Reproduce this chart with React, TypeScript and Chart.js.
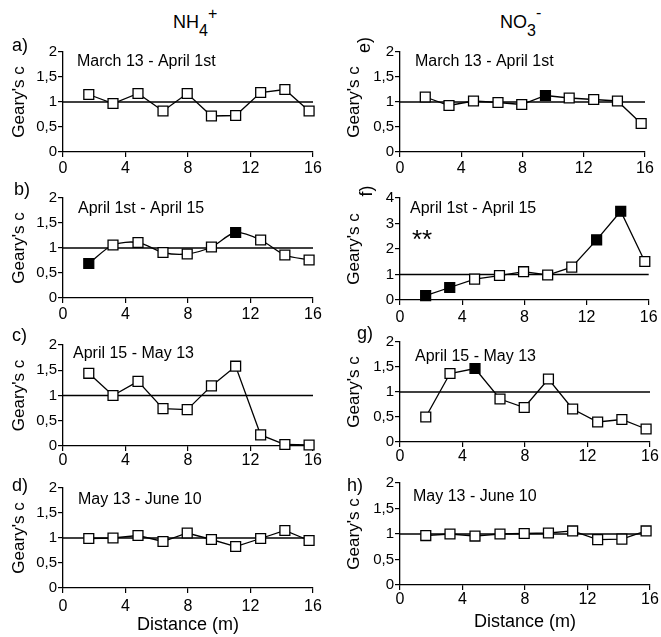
import React, { useEffect, useRef } from "react";
import { Chart, registerables } from "chart.js";
Chart.register(...registerables);

// ---------- data ----------
const distances = [1.65, 3.2, 4.8, 6.4, 7.95, 9.5, 11.05, 12.65, 14.2, 15.75];
const xTickValues = [0, 4, 8, 12, 16];
const yTicksSmall = [0, 0.5, 1, 1.5, 2];
const yTicksLarge = [0, 1, 2, 3, 4];
const REF_VALUE = 1;

const nh4Mar13 = [1.15, 0.97, 1.17, 0.82, 1.17, 0.72, 0.73, 1.19, 1.25, 0.82];
const nh4Mar13Sig = [0, 0, 0, 0, 0, 0, 0, 0, 0, 0];
const nh4Apr1 = [0.69, 1.06, 1.11, 0.91, 0.88, 1.02, 1.31, 1.16, 0.86, 0.76];
const nh4Apr1Sig = [1, 0, 0, 0, 0, 0, 1, 0, 0, 0];
const nh4Apr15 = [1.44, 1.0, 1.28, 0.74, 0.72, 1.19, 1.58, 0.22, 0.03, 0.02];
const nh4Apr15Sig = [0, 0, 0, 0, 0, 0, 0, 0, 0, 0];
const nh4May13 = [0.99, 1.0, 1.05, 0.93, 1.1, 0.97, 0.83, 0.99, 1.15, 0.95];
const nh4May13Sig = [0, 0, 0, 0, 0, 0, 0, 0, 0, 0];

const no3Mar13 = [1.1, 0.93, 1.02, 0.99, 0.95, 1.13, 1.08, 1.05, 1.02, 0.57];
const no3Mar13Sig = [0, 0, 0, 0, 0, 1, 0, 0, 0, 0];
const no3Apr1 = [0.17, 0.49, 0.82, 0.96, 1.11, 0.98, 1.29, 2.36, 3.48, 1.51];
const no3Apr1Sig = [1, 1, 0, 0, 0, 0, 0, 1, 1, 0];
const no3Apr15 = [0.5, 1.37, 1.47, 0.86, 0.69, 1.26, 0.66, 0.4, 0.45, 0.26];
const no3Apr15Sig = [0, 0, 1, 0, 0, 0, 0, 0, 0, 0];
const no3May13 = [0.97, 1.0, 0.96, 1.0, 1.01, 1.02, 1.06, 0.89, 0.9, 1.06];
const no3May13Sig = [0, 0, 0, 0, 0, 0, 0, 0, 0, 0];

const periodLabels = ["March 13 - April 1st", "April 1st - April 15", "April 15 - May 13", "May 13 - June 10"];
const panelLetters = ["a)", "b)", "c)", "d)", "e)", "f)", "g)", "h)"];
const yTitle = "Geary's c";
const xTitle = "Distance (m)";
const starsText = "**";

// ---------- layout / style ----------
const FONT = "'Liberation Sans', Arial, Helvetica, sans-serif";
const PAD_TOP = 20;

type Layout = {
  colLeft: number; colWidth: number; top: number; bottom: number; plotLeft: number; plotRight: number;
  xPad: number; titlePad: number; bottomAxis: boolean;
  sub: [number, number]; letter: [number, number]; rotLetter: boolean; tension: number;
};

const L = (colLeft: number, top: number, bottom: number, plotRight: number, xPad: number, bottomAxis: boolean,
  sub: [number, number], letter: [number, number], rotLetter: boolean, tension = 0): Layout => ({
  colLeft, colWidth: colLeft === 0 ? 330 : 331, top, bottom,
  plotLeft: colLeft === 0 ? 63 : 400, plotRight, xPad, titlePad: colLeft === 0 ? 9 : 14,
  bottomAxis, sub, letter, rotLetter, tension,
});

const panels = [
  { values: nh4Mar13, sig: nh4Mar13Sig, label: periodLabels[0], letter: panelLetters[0], yTicks: yTicksSmall, stars: false,
    layout: L(0, 52, 152, 313, 2.4, false, [14, 14], [-51, -1], false) },
  { values: nh4Apr1, sig: nh4Apr1Sig, label: periodLabels[1], letter: panelLetters[1], yTicks: yTicksSmall, stars: false,
    layout: L(0, 198, 298, 313, 2.4, false, [15, 15], [-49, -3], false, 0.3) },
  { values: nh4Apr15, sig: nh4Apr15Sig, label: periodLabels[2], letter: panelLetters[2], yTicks: yTicksSmall, stars: false,
    layout: L(0, 345, 446, 313, 0, false, [10, 13], [-51, -4], false) },
  { values: nh4May13, sig: nh4May13Sig, label: periodLabels[3], letter: panelLetters[3], yTicks: yTicksSmall, stars: false,
    layout: L(0, 488, 588, 313, 4.4, true, [15, 16], [-51, 3], false) },
  { values: no3Mar13, sig: no3Mar13Sig, label: periodLabels[0], letter: panelLetters[4], yTicks: yTicksSmall, stars: false,
    layout: L(330, 52, 152, 645, 2.4, false, [15, 14], [-35, -7], true) },
  { values: no3Apr1, sig: no3Apr1Sig, label: periodLabels[1], letter: panelLetters[5], yTicks: yTicksLarge, stars: true,
    layout: L(330, 198, 300, 649, 3.4, false, [10, 15], [-33, -7], true) },
  { values: no3Apr15, sig: no3Apr15Sig, label: periodLabels[2], letter: panelLetters[6], yTicks: yTicksSmall, stars: false,
    layout: L(330, 342, 442, 650, 0, false, [15, 19], [-43, -3], false) },
  { values: no3May13, sig: no3May13Sig, label: periodLabels[3], letter: panelLetters[7], yTicks: yTicksSmall, stars: false,
    layout: L(330, 483, 585, 650, 0, true, [13, 18], [-53, 8], false) },
];

type PanelProps = (typeof panels)[number];

function Panel(p: PanelProps) {
  const ref = useRef<HTMLCanvasElement | null>(null);
  const lay = p.layout;
  const xH = lay.bottomAxis ? 48 : 30;
  const height = PAD_TOP + (lay.bottom - lay.top) + xH;

  useEffect(() => {
    const canvas = ref.current;
    if (!canvas) return;
    const textPlugin = {
      id: "panelText",
      afterDraw(chart: any) {
        const ctx = chart.ctx as CanvasRenderingContext2D;
        const a = chart.chartArea;
        ctx.save();
        ctx.fillStyle = "#000";
        ctx.textAlign = "left";
        ctx.textBaseline = "alphabetic";
        ctx.font = `16px ${FONT}`;
        ctx.fillText(p.label, a.left + lay.sub[0], a.top + lay.sub[1]);
        ctx.font = `18px ${FONT}`;
        if (lay.rotLetter) {
          ctx.translate(a.left + lay.letter[0], a.top + lay.letter[1]);
          ctx.rotate(-Math.PI / 2);
          ctx.textAlign = "center";
          ctx.textBaseline = "middle";
          ctx.fillText(p.letter, 0, 0);
          ctx.setTransform(1, 0, 0, 1, 0, 0);
        } else {
          ctx.fillText(p.letter, a.left + lay.letter[0], a.top + lay.letter[1]);
        }
        if (p.stars) {
          ctx.textAlign = "left";
          ctx.textBaseline = "alphabetic";
          ctx.font = `26px ${FONT}`;
          ctx.fillText(starsText, a.left + 12, a.top + 50);
        }
        ctx.restore();
      },
    };

    const yMax = p.yTicks[p.yTicks.length - 1];
    const chart = new Chart(canvas, {
      type: "line",
      data: {
        datasets: [
          {
            data: distances.map((x, i) => ({ x, y: p.values[i] })),
            borderColor: "#000",
            borderWidth: 1.3,
            pointStyle: "rect",
            pointRadius: 7,
            pointBorderWidth: 1.3,
            pointBorderColor: "#000",
            pointBackgroundColor: p.sig.map((s) => (s ? "#000" : "#fff")),
            tension: lay.tension,
            clip: false,
          } as any,
          {
            data: [
              { x: xTickValues[0], y: REF_VALUE },
              { x: xTickValues[xTickValues.length - 1], y: REF_VALUE },
            ],
            borderColor: "#000",
            borderWidth: 1.5,
            pointRadius: 0,
            clip: false,
          } as any,
        ],
      },
      options: {
        responsive: false,
        animation: false,
        events: [],
        layout: { padding: { top: PAD_TOP, right: lay.colLeft + lay.colWidth - lay.plotRight, left: 0, bottom: 0 } },
        plugins: { legend: { display: false }, tooltip: { enabled: false }, title: { display: false } },
        scales: {
          x: {
            type: "linear",
            min: xTickValues[0],
            max: xTickValues[xTickValues.length - 1],
            afterBuildTicks: (s: any) => {
              s.ticks = xTickValues.map((v) => ({ value: v }));
            },
            ticks: { font: { size: 16, family: FONT }, color: "#000", padding: lay.xPad, maxRotation: 0, autoSkip: false },
            grid: { drawOnChartArea: false, drawTicks: true, tickLength: 5, color: "#000", lineWidth: 1.2 },
            border: { display: true, color: "#000", width: 1.3 },
            title: lay.bottomAxis
              ? { display: true, text: xTitle, color: "#000", font: { size: 18, family: FONT }, padding: { top: 0, bottom: 0 } }
              : { display: false },
            afterFit: (s: any) => {
              s.height = xH;
            },
          },
          y: {
            type: "linear",
            min: p.yTicks[0],
            max: yMax,
            afterBuildTicks: (s: any) => {
              s.ticks = p.yTicks.map((v) => ({ value: v }));
            },
            ticks: {
              font: { size: 15, family: FONT },
              color: "#000",
              padding: 1,
              callback: (v: any) => String(v).replace(".", ","),
            },
            grid: { drawOnChartArea: false, drawTicks: true, tickLength: 5, color: "#000", lineWidth: 1.2 },
            border: { display: true, color: "#000", width: 1.3 },
            title: { display: true, text: yTitle, color: "#000", font: { size: 17, family: FONT }, padding: { top: lay.titlePad, bottom: 0 } },
            afterFit: (s: any) => {
              s.width = lay.plotLeft - lay.colLeft;
            },
          },
        },
      } as any,
      plugins: [textPlugin],
    });
    return () => chart.destroy();
  }, []);

  return (
    <canvas
      ref={ref}
      width={lay.colWidth}
      height={height}
      style={{ position: "absolute", left: lay.colLeft, top: lay.top - PAD_TOP, width: lay.colWidth, height }}
    />
  );
}

export default function App() {
  useEffect(() => {
    document.body.style.overflow = "hidden";
  }, []);
  const headStyle: React.CSSProperties = {
    position: "absolute",
    top: 13,
    fontFamily: FONT,
    fontSize: 18,
    lineHeight: "18px",
    color: "#000",
    whiteSpace: "nowrap",
  };
  return (
    <div style={{ position: "absolute", left: 0, top: 0, width: 661, height: 637, background: "#fff", overflow: "hidden" }}>
      <div style={{ ...headStyle, left: 173 }}>
        NH<span style={{ position: "relative", top: 8, fontSize: 16 }}>4</span>
        <span style={{ position: "relative", top: -9, fontSize: 16 }}>+</span>
      </div>
      <div style={{ ...headStyle, left: 500 }}>
        NO<span style={{ position: "relative", top: 8, fontSize: 16 }}>3</span>
        <span style={{ position: "relative", top: -10, fontSize: 16 }}>-</span>
      </div>
      {panels.map((p, i) => (
        <Panel key={i} {...p} />
      ))}
    </div>
  );
}
